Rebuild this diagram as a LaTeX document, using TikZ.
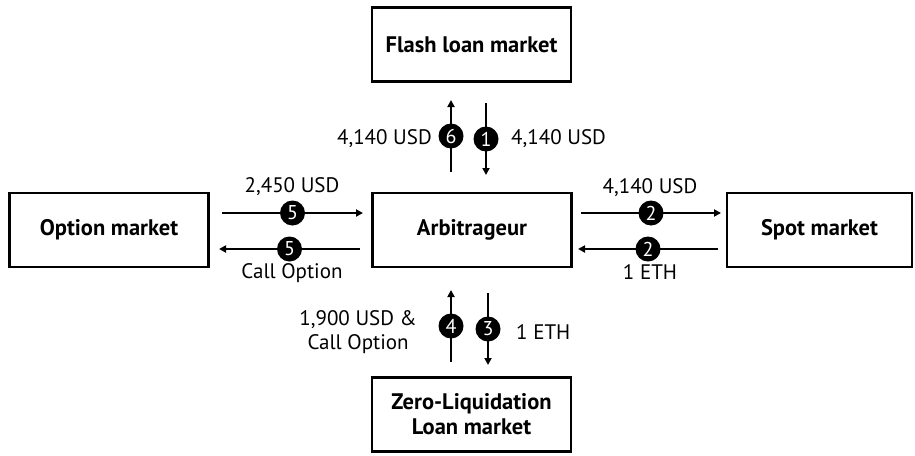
\documentclass[tikz,border=0pt]{standalone}
\usepackage{fontspec}
\setmainfont{PT Sans}
\usetikzlibrary{arrows.meta}
\begin{document}
\begin{tikzpicture}[
        x=1pt, y=-1pt,
        marketNode/.style={rectangle, draw, line width=2.8pt, minimum width=199pt, minimum height=74pt, inner sep=0pt, align=center, font=\fontsize{22.5}{25}\selectfont\bfseries},
        stepNode/.style={circle, fill=black, text=white, minimum size=25pt, inner sep=0pt, font=\fontsize{20}{22}\selectfont},
        amountNode/.style={font=\fontsize{21}{24}\selectfont, inner sep=0pt, align=center},
        flow/.style={line width=1.8pt, -{Triangle[length=7pt, width=7pt]}}
    ]
        \useasboundingbox (0,0) rectangle (915,455);

        % Markets
        \node[marketNode] (arb) at (472,230) {Arbitrageur};
        \node[marketNode] (flash) at (471.5,44.5) {Flash loan market};
        \node[marketNode] (option) at (109,230) {Option market};
        \node[marketNode, minimum width=185pt] (spot) at (819.5,230) {Spot market};
        \node[marketNode] (zero) at (471.5,414.5) {Zero-Liquidation\\Loan market};

        % Arrow ends
        \coordinate (f6a) at (451,172); \coordinate (f6b) at (451,100);
        \coordinate (f1a) at (486,103); \coordinate (f1b) at (486,175);
        \coordinate (o5a) at (222,213); \coordinate (o5b) at (363,213);
        \coordinate (o5c) at (360,249); \coordinate (o5d) at (219,249);
        \coordinate (s2a) at (581,213); \coordinate (s2b) at (721,213);
        \coordinate (s2c) at (718,249); \coordinate (s2d) at (578,249);
        \coordinate (z4a) at (451,362); \coordinate (z4b) at (451,290);
        \coordinate (z3a) at (488,293); \coordinate (z3b) at (488,365);

        % Flows
        \draw[flow] (f6a) -- node[stepNode] (n6) {6} (f6b);
        \draw[flow] (f1a) -- node[stepNode] (n1) {1} (f1b);
        \draw[flow] (o5a) -- node[stepNode] (n5a) {5} (o5b);
        \draw[flow] (o5c) -- node[stepNode] (n5b) {5} (o5d);
        \draw[flow] (s2a) -- node[stepNode] (n2a) {2} (s2b);
        \draw[flow] (s2c) -- node[stepNode] (n2b) {2} (s2d);
        \draw[flow] (z4a) -- node[stepNode] (n4) {4} (z4b);
        \draw[flow] (z3a) -- node[stepNode] (n3) {3} (z3b);

        % Amounts
        \node[amountNode, anchor=east] (l6) at (432,139) {4,140 USD};
        \node[amountNode, anchor=west] (l1) at (511,139) {4,140 USD};
        \node[amountNode] (l5a) at (292,187) {2,450 USD};
        \node[amountNode] (l5b) at (292,273) {Call Option};
        \node[amountNode] (l2a) at (650,188) {4,140 USD};
        \node[amountNode] (l2b) at (650,272) {1 ETH};
        \node[amountNode, anchor=east] (l4) at (417,332) {1,900 USD \&\\Call Option};
        \node[amountNode, anchor=west] (l3) at (516,332) {1 ETH};
    \end{tikzpicture}
\end{document}
